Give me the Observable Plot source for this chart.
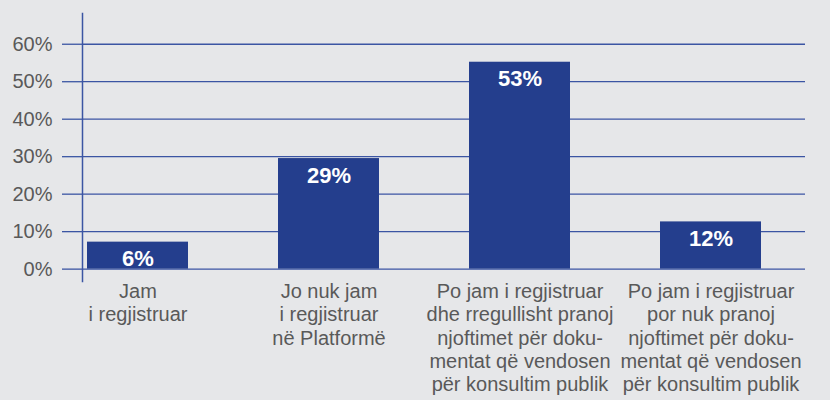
<!DOCTYPE html>
<html>
<head>
<meta charset="utf-8">
<script src="https://cdn.jsdelivr.net/npm/d3@7"></script>
<script src="https://cdn.jsdelivr.net/npm/@observablehq/plot@0.6"></script>
<style>
  html, body { margin: 0; padding: 0; background: #e6e7e9; }
  #chart { width: 830px; height: 400px; overflow: hidden; }
</style>
</head>
<body>
<div id="chart"></div>
<script>
const categories = [
  "Jam\ni regjistruar",
  "Jo nuk jam\ni regjistruar\nnë Platformë",
  "Po jam i regjistruar\ndhe rregullisht pranoj\nnjoftimet për doku-\nmentat që vendosen\npër konsultim publik",
  "Po jam i regjistruar\npor nuk pranoj\nnjoftimet për doku-\nmentat që vendosen\npër konsultim publik"
];
const values = [0.072, 0.295, 0.552, 0.126];
const valueLabels = ["6%", "29%", "53%", "12%"];
const yTicks = [0, 0.1, 0.2, 0.3, 0.4, 0.5, 0.6];

const data = categories.map((c, i) => ({category: c, value: values[i], label: valueLabels[i]}));

const barColor = "#243e8d";
const lineColor = "#3b55a3";
const textColor = "#595959";

const chart = Plot.plot({
  width: 830,
  height: 400,
  marginTop: 13,
  marginBottom: 119,
  marginLeft: 82,
  marginRight: 25,
  style: {background: "#e6e7e9", fontFamily: "'Liberation Sans', Arial, sans-serif"},
  x: {domain: categories, range: [86, 762], paddingInner: 0.473, paddingOuter: 0},
  y: {domain: [-0.033, 0.682]},
  marks: [
    Plot.gridY(yTicks, {stroke: lineColor, strokeOpacity: 1, strokeWidth: 1.3}),
    Plot.frame({anchor: "left", stroke: lineColor, strokeWidth: 1.5}),
    Plot.axisY(yTicks, {
      tickSize: 20, tickPadding: 10, stroke: lineColor, strokeWidth: 1.3,
      fill: textColor, fontSize: 20, tickFormat: d => Math.round(d * 100) + "%",
      label: null
    }),
    Plot.barY(data, {x: "category", y: "value", fill: barColor}),
    Plot.text(data, {x: "category", y: "value", text: "label", dy: 17, lineAnchor: "middle",
      fill: "white", fontWeight: "bold", fontSize: 22}),
    Plot.axisX({tickSize: 0, tickPadding: 0, fill: textColor, fontSize: 20, lineHeight: 1.165, label: null})
  ]
});
document.getElementById("chart").appendChild(chart);
</script>
</body>
</html>
